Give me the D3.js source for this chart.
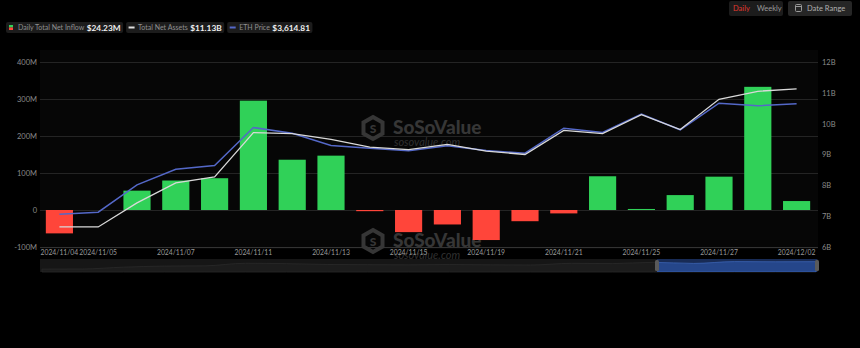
<!DOCTYPE html>
<html><head><meta charset="utf-8">
<script src="https://cdn.jsdelivr.net/npm/d3@7"></script>
<style>
html,body{margin:0;padding:0;background:#000;}
svg{display:block;font-family:Lato,"Open Sans",sans-serif;}
</style></head>
<body><svg id="c" width="860" height="348"></svg>
<script>
const dates = ["2024/11/04","2024/11/05","2024/11/06","2024/11/07","2024/11/08","2024/11/11","2024/11/12","2024/11/13","2024/11/14","2024/11/15","2024/11/18","2024/11/19","2024/11/20","2024/11/21","2024/11/22","2024/11/25","2024/11/26","2024/11/27","2024/11/29","2024/12/02"];
const netInflow = [-63.2,0,52.3,79.7,85.9,295.5,135.9,146.9,-3.2,-59.8,-39.1,-81.2,-30.3,-9.2,91.2,2.8,40.3,90.1,332.9,24.2]; // M USD
const netAssets = [6.65,6.65,7.43,8.08,8.27,9.71,9.68,9.49,9.24,9.16,9.33,9.11,9.00,9.78,9.68,10.29,9.81,10.79,11.05,11.13]; // B USD
const ethPrice = [2401,2423,2724,2896,2936,3354,3292,3156,3125,3098,3153,3101,3072,3347,3299,3502,3329,3622,3593,3614.81];
const leftTicks = [-100,0,100,200,300,400];
const rightTicks = [6,7,8,9,10,11,12];
const xLabelDates = ["2024/11/04","2024/11/05","2024/11/07","2024/11/11","2024/11/13","2024/11/15","2024/11/19","2024/11/21","2024/11/25","2024/11/27","2024/12/02"];
const legendItems = [
  {name:"Daily Total Net Inflow", value:"$24.23M", kind:"bar"},
  {name:"Total Net Assets", value:"$11.13B", kind:"white"},
  {name:"ETH Price", value:"$3,614.81", kind:"blue"}
];

const svg = d3.select("#c");
const W=860,H=348;
svg.append("rect").attr("width",W).attr("height",H).attr("fill","#000");
const L=40,R=818,T=62,B=247;
svg.append("rect").attr("x",L).attr("y",50).attr("width",R-L).attr("height",B-50+2).attr("fill","#060606");

const x = d3.scaleBand().domain(dates).range([L,816]).paddingInner(0.3).paddingOuter(0.15);
const yL = d3.scaleLinear().domain([-100,400]).range([B,T]);
const yR = d3.scaleLinear().domain([6,12]).range([B,T]);
const yP = d3.scaleLinear().domain([2040,4075]).range([B,T]);

// grid
const grid = svg.append("g");
grid.selectAll("line").data(leftTicks).join("line")
  .attr("x1",L).attr("x2",R).attr("y1",d=>yL(d)+0.5).attr("y2",d=>yL(d)+0.5)
  .attr("stroke",d=>d===-100?"#333":"#242424").attr("stroke-width",1);

// left axis
const axL = d3.axisLeft(yL).tickValues(leftTicks).tickSize(0).tickPadding(3)
  .tickFormat(d=>d===0?"0":d+"M");
const gL = svg.append("g").attr("transform",`translate(${L},0)`).call(axL);
gL.select(".domain").remove();
gL.selectAll("text").attr("fill","#8a8a8a").attr("font-size",7.5).attr("font-family","Lato");

// right axis
const axR = d3.axisRight(yR).tickValues(rightTicks).tickSize(0).tickPadding(4).tickFormat(d=>d+"B");
const gR = svg.append("g").attr("transform",`translate(${R},0)`).call(axR);
gR.select(".domain").remove();
gR.selectAll("text").attr("fill","#8a8a8a").attr("font-size",7.5).attr("font-family","Lato");

// watermarks
function watermark(cx,cy){
  const g = svg.append("g").attr("transform",`translate(${cx},${cy})`);
  const hex = d3.range(6).map(i=>{const a=Math.PI/3*i-Math.PI/2;return [11*Math.cos(a),11*Math.sin(a)];});
  g.append("path").attr("d","M"+hex.join("L")+"Z").attr("fill","none").attr("stroke","#363636").attr("stroke-width",4).attr("transform","translate(12,0)");
  g.append("text").attr("x",12).attr("y",4.5).attr("text-anchor","middle").attr("fill","#363636").attr("font-size",12).attr("font-weight",900).text("S");
  g.append("text").attr("x",32).attr("y",6).attr("fill","#363636").attr("font-size",19).attr("font-weight",900).attr("font-family","Lato").text("SoSoValue");
  g.append("text").attr("x",33).attr("y",18).attr("fill","#303030").attr("font-size",11).attr("font-style","italic").attr("font-family","Lato").text("sosovalue.com");
}
watermark(361,128);
watermark(361,241);

// bars
svg.append("g").selectAll("rect").data(dates).join("rect")
  .attr("x",d=>x(d)).attr("width",x.bandwidth())
  .attr("y",(d,i)=>yL(Math.max(0,netInflow[i])))
  .attr("height",(d,i)=>Math.abs(yL(netInflow[i])-yL(0)))
  .attr("fill",(d,i)=>netInflow[i]>=0?"#30d158":"#ff453a");

const cx = d=>x(d)+x.bandwidth()/2;
// eth price line
svg.append("path").datum(dates).attr("fill","none").attr("stroke","#5468c8").attr("stroke-width",1.5)
  .attr("d",d3.line().x(d=>cx(d)).y((d,i)=>yP(ethPrice[i])));
// net assets line
svg.append("path").datum(dates).attr("fill","none").attr("stroke","#d9d9d9").attr("stroke-width",1.3)
  .attr("d",d3.line().x(d=>cx(d)).y((d,i)=>yR(netAssets[i])));

// x labels
svg.append("g").selectAll("text").data(xLabelDates).join("text")
  .attr("x",d=>cx(d)).attr("y",255).attr("text-anchor","middle")
  .attr("fill","#9a9a9a").attr("font-size",6.8).attr("font-family","Lato").text(d=>d);

// slider
const sY=259,sH=13;
svg.append("rect").attr("x",L).attr("y",sY).attr("width",R-L).attr("height",sH).attr("fill","#161616");
const xs = d3.scaleLinear().domain([0,dates.length-1]).range([L+2,R-2]);
const ys = d3.scaleLinear().domain([d3.min(ethPrice)-300,d3.max(ethPrice)+100]).range([sY+sH-1,sY+2]);
svg.append("path").datum(ethPrice).attr("fill","#1c1c1c").attr("stroke","#2a2a2a").attr("stroke-width",0.8)
  .attr("d",d3.area().x((d,i)=>xs(i)).y0(sY+sH).y1(d=>ys(d)).curve(d3.curveMonotoneX));
const selX0=657, selX1=817;
svg.append("rect").attr("x",selX0).attr("y",sY).attr("width",selX1-selX0).attr("height",sH).attr("fill","#182b55");
svg.append("clipPath").attr("id","selclip").append("rect").attr("x",selX0).attr("y",sY).attr("width",selX1-selX0).attr("height",sH);
svg.append("path").datum(ethPrice).attr("clip-path","url(#selclip)").attr("fill","#25468a").attr("stroke","#3b63b3").attr("stroke-width",0.8)
  .attr("d",d3.area().x((d,i)=>xs(i)).y0(sY+sH).y1(d=>ys(d)).curve(d3.curveMonotoneX));
[selX0,selX1].forEach(hx=>{
  svg.append("rect").attr("x",hx-2).attr("y",sY+1).attr("width",4).attr("height",sH-2).attr("rx",1.5).attr("fill","#5a5a5a");
});

// legend
let lx = 6;
const lg = svg.append("g");
legendItems.forEach(it=>{
  const g = lg.append("g");
  const t1 = g.append("text").attr("x",lx+12).attr("y",30).attr("fill","#8f8f8f").attr("font-size",7).attr("font-family","Lato").text(it.name);
  const w1 = t1.node().getComputedTextLength();
  const t2 = g.append("text").attr("x",lx+12+w1+2.5).attr("y",30.5).attr("fill","#f0f0f0").attr("font-size",8.3).attr("font-weight",700).attr("font-family","Lato").text(it.value);
  const w2 = t2.node().getComputedTextLength();
  const bw = 12+w1+2.5+w2+2.5;
  g.insert("rect","text").attr("x",lx).attr("y",22).attr("width",bw).attr("height",11).attr("rx",2).attr("fill","#1c1c1c");
  if(it.kind==="bar"){
    g.append("rect").attr("x",lx+3).attr("y",25).attr("width",4).attr("height",2.5).attr("fill","#30d158");
    g.append("rect").attr("x",lx+3).attr("y",27.5).attr("width",4).attr("height",2.5).attr("fill","#ff453a");
  } else {
    g.append("rect").attr("x",lx+2.5).attr("y",26.5).attr("width",6).attr("height",2).attr("fill",it.kind==="white"?"#e0e0e0":"#5468c8");
  }
  lx += bw + 3;
});

// top right buttons
svg.append("rect").attr("x",729).attr("y",1).attr("width",54).attr("height",15).attr("rx",2).attr("fill","#1c1c1c");
svg.append("text").attr("x",733).attr("y",11).attr("fill","#e0382e").attr("font-size",7.5).attr("font-family","Lato").text("Daily");
svg.append("text").attr("x",757).attr("y",11).attr("fill","#9a9a9a").attr("font-size",7.5).attr("font-family","Lato").text("Weekly");
svg.append("rect").attr("x",788).attr("y",1).attr("width",64).attr("height",15).attr("rx",2).attr("fill","#262626");
svg.append("rect").attr("x",795.5).attr("y",4.5).attr("width",6).attr("height",7).attr("rx",1).attr("fill","none").attr("stroke","#9a9a9a").attr("stroke-width",1);
svg.append("line").attr("x1",795.5).attr("x2",801.5).attr("y1",6.5).attr("y2",6.5).attr("stroke","#9a9a9a");
svg.append("text").attr("x",807).attr("y",11).attr("fill","#b0b0b0").attr("font-size",7.5).attr("font-family","Lato").text("Date Range");
</script>
</body></html>
